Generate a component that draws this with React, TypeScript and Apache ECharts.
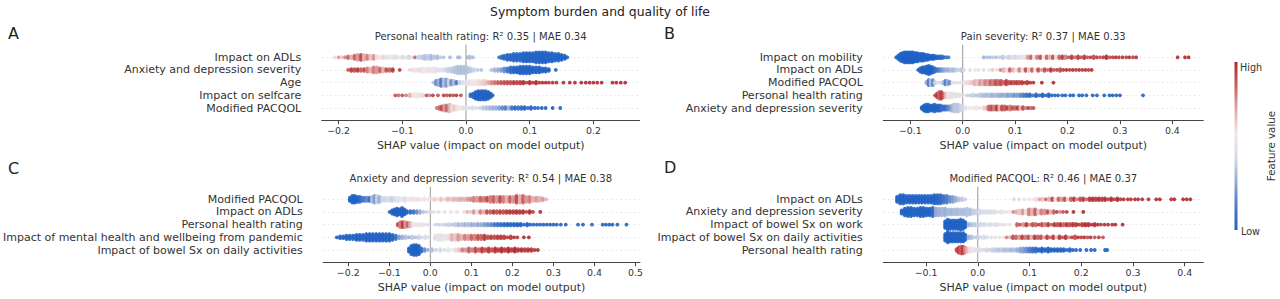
import React, { useEffect, useRef } from "react";
import * as echarts from "echarts";

type Bin = [number, number, number]; // [shap value, feature value 0..1, dot count]

const mainTitle = "Symptom burden and quality of life";
const panelLetters = ["A", "B", "C", "D"];
const panelTitles = [
  "Personal health rating: R\u00b2 0.35 | MAE 0.34",
  "Pain severity: R\u00b2 0.37 | MAE 0.33",
  "Anxiety and depression severity: R\u00b2 0.54 | MAE 0.38",
  "Modified PACQOL: R\u00b2 0.46 | MAE 0.37",
];
const featuresA = ["Impact on ADLs", "Anxiety and depression severity", "Age", "Impact on selfcare", "Modified PACQOL"];
const featuresB = ["Impact on mobility", "Impact on ADLs", "Modified PACQOL", "Personal health rating", "Anxiety and depression severity"];
const featuresC = ["Modified PACQOL", "Impact on ADLs", "Personal health rating", "Impact of mental health and wellbeing from pandemic", "Impact of bowel Sx on daily activities"];
const featuresD = ["Impact on ADLs", "Anxiety and depression severity", "Impact of bowel Sx on work", "Impact of bowel Sx on daily activities", "Personal health rating"];

const xTicksA = [-0.2, -0.1, 0, 0.1, 0.2];
const xTicksB = [-0.1, 0, 0.1, 0.2, 0.3, 0.4];
const xTicksC = [-0.2, -0.1, 0, 0.1, 0.2, 0.3, 0.4, 0.5];
const xTicksD = [-0.1, 0, 0.1, 0.2, 0.3, 0.4];
const xRangeA = [-0.2265, 0.2727];
const xRangeB = [-0.1515, 0.459];
const xRangeC = [-0.261, 0.511];
const xRangeD = [-0.1826, 0.436];
const axisTitle = "SHAP value (impact on model output)";
const colorLabels = ["High", "Low"];
const colorTitle = "Feature value";

// ---------- Panel A ----------
const a1: Bin[] = [[-0.206,0.6,1],[-0.2,0.75,1],[-0.195,0.65,1],[-0.19,0.8,1],[-0.185,0.85,2],[-0.18,0.7,2],[-0.175,0.85,3],[-0.17,0.75,4],[-0.165,0.9,4],[-0.16,0.7,4],[-0.155,0.8,3],[-0.15,0.65,3],[-0.145,0.75,3],[-0.14,0.6,2],[-0.135,0.55,2],[-0.13,0.62,2],[-0.125,0.52,2],[-0.12,0.55,2],[-0.115,0.5,2],[-0.11,0.47,2],[-0.105,0.52,1],[-0.1,0.45,2],[-0.095,0.5,1],[-0.09,0.42,2],[-0.085,0.48,1],[-0.08,0.85,1],[-0.075,0.4,2],[-0.07,0.38,2],[-0.065,0.35,3],[-0.06,0.38,3],[-0.055,0.33,3],[-0.05,0.36,2],[-0.045,0.34,2],[-0.04,0.38,1],[-0.035,0.35,1],[-0.025,0.33,1],[-0.013,0.34,1],[-0.01,0.32,1],[0.002,0.33,1],[0.006,0.35,2],[0.011,0.33,1],
[0.052,0.1,1],[0.056,0.05,2],[0.06,0.04,3],[0.065,0.03,4],[0.07,0.02,4],[0.075,0.02,5],[0.08,0.01,5],[0.085,0.01,5],[0.09,0.01,6],[0.095,0,6],[0.1,0,6],[0.105,0,6],[0.11,0,7],[0.115,0,7],[0.12,0,7],[0.125,0,7],[0.13,0,6],[0.135,0,6],[0.14,0,5],[0.145,0,5],[0.15,0,4],[0.155,0,3],[0.159,0,1]];
const a2: Bin[] = [[-0.185,0.9,1],[-0.18,0.95,2],[-0.175,0.9,2],[-0.17,0.95,2],[-0.165,0.85,2],[-0.16,0.9,2],[-0.155,0.8,3],[-0.15,0.7,3],[-0.145,0.8,4],[-0.14,0.75,4],[-0.135,0.85,3],[-0.13,0.7,3],[-0.125,0.9,2],[-0.12,0.85,2],[-0.115,0.95,2],[-0.104,0.95,1],
[-0.088,0.62,1],[-0.083,0.6,2],[-0.078,0.58,2],[-0.073,0.6,2],[-0.068,0.55,3],[-0.063,0.57,3],[-0.058,0.52,3],[-0.053,0.55,3],[-0.048,0.5,3],[-0.043,0.48,2],[-0.038,0.5,2],
[-0.033,0.42,2],[-0.028,0.4,3],[-0.023,0.38,3],[-0.018,0.36,4],[-0.013,0.35,5],[-0.008,0.34,5],[-0.003,0.35,5],[0.002,0.36,4],[0.007,0.38,3],[0.012,0.4,2],[0.018,0.38,1],[0.024,0.36,1],
[0.04,0.35,1],[0.045,0.32,2],[0.05,0.3,2],[0.055,0.25,2],[0.06,0.2,3],[0.065,0.12,3],[0.07,0.05,4],[0.075,0.02,4],[0.08,0,4],[0.085,0,5],[0.09,0,5],[0.095,0,5],[0.1,0,5],[0.105,0,4],[0.11,0,4],[0.115,0,4],[0.12,0,3],[0.125,0,3],[0.13,0,2],[0.141,0,1]];
const a3: Bin[] = [[-0.051,0.35,1],[-0.047,0.2,3],[-0.043,0.3,4],[-0.039,0.15,5],[-0.035,0.35,5],[-0.031,0.25,5],[-0.027,0.4,4],[-0.023,0.2,3],[-0.019,0.35,3],[-0.015,0.15,2],[-0.01,0.4,2],[-0.005,0.45,2],[0,0.5,2],
[0.005,0.52,3],[0.01,0.55,3],[0.015,0.58,3],[0.02,0.6,3],[0.025,0.62,3],[0.03,0.65,3],
[0.035,0.72,2],[0.04,0.78,2],[0.045,0.82,2],[0.05,0.85,2],[0.055,0.88,2],[0.06,0.9,2],[0.065,0.92,2],[0.07,0.9,2],[0.075,0.95,2],[0.08,0.93,2],[0.085,0.95,2],[0.09,0.97,2],[0.095,0.95,1],[0.1,0.97,2],[0.105,0.96,1],[0.11,0.98,2],[0.115,0.97,1],[0.12,0.98,1],[0.125,0.98,1],[0.13,0.97,1],[0.136,0.99,1],[0.142,0.99,1],
[0.153,1,1],[0.163,1,1],[0.171,1,1],[0.181,1,1],[0.188,1,1],[0.194,1,1],[0.2,1,1],[0.206,1,1],[0.213,1,1],[0.23,1,1],[0.236,1,1],[0.243,1,1],[0.25,1,1]];
const a4: Bin[] = [[-0.111,0.9,1],[-0.106,0.85,1],[-0.1,0.9,1],[-0.094,0.8,1],[-0.088,0.7,2],[-0.083,0.6,2],[-0.078,0.55,3],[-0.073,0.5,2],[-0.068,0.6,2],[-0.062,0.9,1],[-0.057,0.8,1],[-0.052,0.95,1],[-0.044,0.9,1],[-0.035,0.95,1],[-0.03,0.9,1],[-0.025,0.95,1],[-0.02,0.9,1],[-0.015,0.95,1],[-0.008,0.9,1],
[0.007,0.05,2],[0.011,0.02,3],[0.015,0,5],[0.019,0,6],[0.023,0,6],[0.027,0,6],[0.031,0,6],[0.035,0,5],[0.039,0,3],[0.042,0,1]];
const a5: Bin[] = [[-0.046,0.8,1],[-0.042,0.85,2],[-0.038,0.9,3],[-0.034,0.75,4],[-0.03,0.85,4],[-0.026,0.7,5],[-0.022,0.6,4],[-0.018,0.65,3],[-0.014,0.55,3],[-0.01,0.55,2],[-0.005,0.5,2],[0,0.48,2],[0.005,0.45,1],[0.01,0.45,2],[0.016,0.42,1],[0.022,0.4,1],
[0.027,0.38,2],[0.032,0.35,2],[0.037,0.33,2],[0.042,0.3,2],[0.047,0.3,2],[0.052,0.25,2],[0.057,0.2,2],[0.062,0.15,2],[0.067,0.3,2],[0.072,0.1,2],[0.077,0.05,2],[0.082,0.1,2],[0.087,0.05,2],[0.092,0.02,2],[0.097,0.05,1],[0.102,0.02,2],[0.108,0,1],[0.113,0.02,1],[0.119,0,1],[0.125,0,1],[0.136,0,1],[0.148,0,1]];

// ---------- Panel B ----------
const b1: Bin[] = [[-0.127,0,1],[-0.123,0,3],[-0.119,0,5],[-0.115,0,6],[-0.111,0,7],[-0.107,0,7],[-0.103,0,7],[-0.099,0,7],[-0.095,0,7],[-0.091,0,6],[-0.087,0,6],[-0.083,0,5],[-0.079,0,5],[-0.075,0,5],[-0.071,0,4],[-0.067,0,4],[-0.063,0,3],[-0.059,0,3],[-0.055,0,3],[-0.051,0,2],[-0.047,0.02,2],[-0.043,0.02,2],[-0.039,0.05,2],[-0.035,0.05,1],[-0.031,0.1,1],[-0.027,0.1,1],
[0.04,0.3,1],[0.046,0.35,1],[0.052,0.32,1],[0.058,0.38,1],[0.064,0.35,1],[0.07,0.4,1],[0.076,0.38,2],[0.082,0.42,1],[0.088,0.4,2],[0.094,0.45,2],[0.1,0.42,2],[0.106,0.47,2],[0.112,0.5,2],[0.118,0.52,2],
[0.124,0.75,2],[0.13,0.85,2],[0.136,0.6,2],[0.142,0.8,2],[0.148,0.9,2],[0.154,0.55,1],[0.16,0.85,2],[0.166,0.7,2],[0.172,0.9,2],[0.178,0.6,2],[0.184,0.85,2],[0.19,0.95,2],[0.196,0.8,2],[0.202,0.9,1],[0.208,0.95,2],[0.214,0.85,1],[0.22,0.95,2],[0.226,0.9,1],[0.232,0.95,2],[0.238,0.9,1],[0.244,0.95,1],[0.25,0.9,2],[0.256,0.95,1],[0.262,0.9,1],[0.268,0.95,1],[0.274,0.98,2],[0.28,0.9,1],[0.286,0.95,1],[0.292,0.98,1],[0.298,0.95,1],[0.305,0.98,1],[0.312,0.95,1],[0.318,0.98,1],[0.325,0.95,1],[0.331,0.98,1],
[0.41,1,1],[0.424,1,1],[0.431,1,1]];
const b2: Bin[] = [[-0.085,0,1],[-0.081,0,3],[-0.077,0,4],[-0.073,0,4],[-0.069,0,5],[-0.065,0,6],[-0.061,0,5],[-0.057,0,4],[-0.053,0.05,3],[-0.049,0.1,2],[-0.045,0.15,2],[-0.041,0.2,2],[-0.037,0.25,2],[-0.033,0.3,2],[-0.028,0.3,2],[-0.023,0.35,2],[-0.018,0.33,2],[-0.013,0.38,2],[-0.008,0.4,1],[-0.003,0.38,2],[0.002,0.42,1],
[0.014,0.5,1],[0.024,0.55,1],[0.03,0.52,1],[0.04,0.6,1],[0.05,0.55,1],[0.057,0.65,1],[0.065,0.6,1],
[0.072,0.8,1],[0.078,0.7,2],[0.084,0.6,2],[0.09,0.85,2],[0.096,0.7,2],[0.102,0.55,2],[0.108,0.8,2],[0.114,0.6,2],[0.12,0.9,2],[0.126,0.65,2],[0.132,0.85,2],[0.138,0.55,1],[0.144,0.9,2],[0.15,0.75,1],[0.156,0.9,2],[0.162,0.85,1],[0.168,0.95,2],[0.174,0.9,1],[0.18,0.95,1],[0.186,0.9,2],[0.192,0.95,1],[0.198,0.98,1],[0.204,0.95,1],[0.21,0.98,1],[0.216,0.95,1],[0.222,0.98,1],[0.228,0.95,1],[0.234,0.98,1],[0.24,0.95,1],[0.246,0.98,1]];
const b3: Bin[] = [[-0.069,0.3,2],[-0.065,0.15,4],[-0.061,0.35,4],[-0.057,0.2,4],[-0.053,0.4,2],[-0.047,0.45,1],[-0.042,0.42,1],[-0.037,0.35,2],[-0.033,0.15,3],[-0.029,0.3,3],[-0.025,0.2,2],[-0.02,0.45,1],[-0.014,0.48,1],[-0.008,0.5,1],[-0.003,0.5,1],
[0.003,0.55,2],[0.008,0.6,2],[0.013,0.62,2],[0.018,0.65,2],[0.023,0.7,3],[0.028,0.65,3],[0.033,0.75,3],[0.038,0.7,3],[0.043,0.8,3],[0.048,0.75,3],[0.053,0.85,3],[0.058,0.8,3],[0.063,0.9,3],[0.068,0.85,3],[0.073,0.9,3],[0.078,0.85,2],[0.083,0.95,3],[0.088,0.9,2],[0.093,0.95,2],[0.098,0.9,2],[0.103,0.95,2],[0.108,0.9,2],[0.113,0.95,2],[0.118,0.97,1],[0.123,0.95,2],[0.129,0.98,1],[0.135,0.97,1],[0.151,1,1],[0.173,1,1]];
const b4: Bin[] = [[-0.053,0.9,1],[-0.049,0.95,3],[-0.045,0.85,5],[-0.041,0.95,5],[-0.037,0.9,3],[-0.033,0.7,3],[-0.029,0.6,3],[-0.025,0.55,4],[-0.021,0.5,3],[-0.016,0.52,3],[-0.011,0.48,2],[-0.006,0.5,2],[0,0.48,1],
[0.008,0.4,1],[0.014,0.38,1],[0.02,0.4,2],[0.026,0.35,1],[0.032,0.38,2],[0.038,0.35,2],[0.044,0.33,2],[0.05,0.35,2],[0.056,0.3,2],[0.062,0.33,2],[0.068,0.3,2],[0.074,0.28,2],[0.08,0.3,2],[0.086,0.25,2],[0.092,0.28,2],[0.098,0.22,2],[0.104,0.25,2],[0.11,0.2,2],[0.116,0.15,2],[0.122,0.1,2],[0.128,0.05,2],[0.134,0.08,1],[0.14,0.02,2],[0.146,0.05,1],[0.152,0,2],[0.158,0.02,1],[0.164,0,2],[0.17,0,1],[0.176,0.02,1],[0.182,0,1],[0.19,0,1],[0.196,0,1],[0.205,0,1],[0.211,0,1],
[0.222,0,1],[0.228,0,1],[0.236,0,1],[0.248,0,1],[0.256,0,1],[0.27,0,1],[0.28,0,1],[0.286,0,1],[0.293,0,1],[0.3,0,1],[0.344,0,1]];
const b5: Bin[] = [[-0.078,0,2],[-0.074,0,4],[-0.07,0,5],[-0.066,0,5],[-0.062,0,4],[-0.058,0,4],[-0.054,0,5],[-0.05,0.02,4],[-0.046,0,4],[-0.042,0.05,4],[-0.038,0.1,3],[-0.034,0.05,3],[-0.03,0.15,3],[-0.026,0.2,3],[-0.021,0.3,4],[-0.017,0.35,5],[-0.013,0.38,5],[-0.009,0.36,5],[-0.005,0.4,4],[-0.001,0.42,3],
[0.005,0.5,2],[0.012,0.52,1],[0.018,0.55,1],[0.025,0.55,2],[0.032,0.6,1],[0.04,0.62,2],[0.046,0.7,2],
[0.05,0.85,3],[0.055,0.9,3],[0.06,0.8,3],[0.065,0.95,3],[0.07,0.7,3],[0.075,0.9,3],[0.08,0.85,3],[0.085,0.95,2],[0.09,0.8,3],[0.095,0.9,2],[0.1,0.85,2],[0.105,0.95,2],[0.11,0.7,2],[0.115,0.9,2],[0.12,0.8,1],[0.125,0.95,1],[0.13,0.85,1],[0.135,0.9,1]];

// ---------- Panel C ----------
const c1: Bin[] = [[-0.196,0,3],[-0.19,0,5],[-0.184,0,5],[-0.178,0,4],[-0.172,0.05,4],[-0.166,0.1,3],[-0.16,0.15,3],[-0.154,0.2,3],[-0.148,0.1,3],[-0.142,0.35,4],[-0.136,0.25,5],[-0.13,0.4,5],[-0.124,0.3,4],[-0.118,0.4,3],[-0.11,0.42,3],[-0.102,0.45,3],[-0.094,0.4,3],[-0.086,0.45,3],[-0.078,0.5,3],[-0.07,0.52,2],[-0.062,0.48,3],[-0.054,0.55,2],[-0.046,0.5,2],[-0.038,0.55,2],[-0.03,0.52,2],[-0.022,0.56,1],[-0.014,0.55,2],[-0.006,0.58,1],
[0.002,0.6,1],[0.01,0.62,2],[0.018,0.6,1],[0.026,0.65,2],[0.034,0.62,1],[0.042,0.68,2],[0.05,0.65,2],[0.058,0.7,2],[0.066,0.68,2],[0.074,0.72,2],[0.082,0.7,2],[0.09,0.75,2],[0.098,0.78,2],[0.106,0.8,3],[0.114,0.75,3],[0.122,0.85,3],[0.13,0.8,3],[0.138,0.9,3],[0.146,0.8,4],[0.154,0.85,4],[0.162,0.75,4],[0.17,0.9,4],[0.178,0.8,4],[0.186,0.7,4],[0.194,0.85,4],[0.202,0.75,4],[0.21,0.9,5],[0.218,0.7,5],[0.226,0.85,5],[0.234,0.75,4],[0.242,0.8,4],[0.25,0.7,3],[0.258,0.75,3],[0.266,0.7,3],[0.274,0.75,2],[0.282,0.7,1]];
const c2: Bin[] = [[-0.099,0,1],[-0.093,0,3],[-0.087,0,4],[-0.081,0,5],[-0.075,0,4],[-0.069,0,6],[-0.063,0,4],[-0.057,0,2],[-0.049,0.05,2],[-0.041,0.1,2],[-0.033,0.2,2],[-0.025,0.3,2],[-0.017,0.35,1],[-0.009,0.4,1],[0,0.42,1],[0.008,0.45,1],[0.02,0.48,1],[0.035,0.5,1],[0.05,0.5,1],[0.065,0.52,1],
[0.082,0.6,1],[0.09,0.7,1],[0.098,0.65,1],[0.106,0.75,2],[0.114,0.6,2],[0.122,0.8,2],[0.13,0.7,2],[0.138,0.9,2],[0.146,0.85,2],[0.154,0.95,2],[0.162,0.9,2],[0.17,0.95,2],[0.178,0.9,2],[0.186,0.95,2],[0.194,0.97,2],[0.202,0.95,2],[0.21,0.98,2],[0.218,0.95,2],[0.226,0.98,2],[0.234,0.95,1],[0.242,0.98,2],[0.25,0.97,1],[0.268,1,1]];
const c3: Bin[] = [[-0.079,0.9,2],[-0.073,0.8,4],[-0.067,0.95,4],[-0.061,0.75,4],[-0.055,0.85,3],[-0.049,0.7,3],[-0.043,0.6,2],[-0.036,0.55,2],[-0.028,0.52,2],[-0.02,0.5,2],[-0.012,0.5,1],[-0.004,0.48,1],
[0.012,0.42,1],[0.02,0.4,1],[0.028,0.42,1],[0.036,0.38,1],[0.044,0.4,2],[0.052,0.36,1],[0.06,0.38,2],[0.068,0.34,2],[0.076,0.36,2],[0.084,0.32,2],[0.092,0.34,2],[0.1,0.3,2],[0.108,0.32,2],[0.116,0.28,2],[0.124,0.3,2],[0.132,0.25,2],[0.14,0.22,2],[0.148,0.2,2],[0.156,0.12,2],[0.164,0.08,2],[0.172,0.05,2],[0.18,0.02,2],[0.188,0,2],[0.196,0.02,2],[0.204,0,2],[0.212,0,2],[0.22,0,2],[0.228,0,1],[0.236,0,2],[0.244,0,1],[0.252,0,1],[0.26,0,1],[0.268,0,1],[0.276,0,1],[0.284,0,1],[0.292,0,1],[0.3,0,1],[0.308,0,1],[0.318,0,1],[0.33,0,1],
[0.36,0,1],[0.372,0,1],[0.394,0,1],[0.42,0,1],[0.428,0,1],[0.436,0,1],[0.444,0,1],[0.456,0,1],[0.478,0,1]];
const c4: Bin[] = [[-0.228,0,1],[-0.22,0,2],[-0.212,0,2],[-0.204,0,3],[-0.196,0,3],[-0.188,0,3],[-0.18,0,4],[-0.172,0,4],[-0.164,0,4],[-0.156,0,5],[-0.148,0,5],[-0.14,0,5],[-0.132,0,5],[-0.124,0,5],[-0.116,0,5],[-0.108,0,5],[-0.1,0,5],[-0.092,0.02,4],[-0.084,0.1,3],[-0.076,0.25,2],[-0.068,0.3,2],[-0.06,0.35,2],[-0.052,0.3,1],[-0.044,0.38,2],[-0.036,0.35,1],[-0.028,0.4,2],[-0.02,0.42,1],[-0.012,0.45,2],[-0.004,0.45,1],
[0.012,0.48,3],[0.02,0.5,4],[0.028,0.5,4],[0.036,0.52,3],
[0.044,0.6,3],[0.052,0.7,4],[0.06,0.65,4],[0.068,0.75,4],[0.076,0.7,3],[0.084,0.8,3],[0.092,0.75,3],[0.1,0.85,3],[0.108,0.8,3],[0.116,0.9,3],[0.124,0.85,3],[0.132,0.95,3],[0.14,0.9,2],[0.148,0.95,2],[0.156,0.9,2],[0.164,0.95,2],[0.172,0.97,2],[0.18,0.95,2],[0.188,0.98,1],[0.196,0.95,2],[0.204,0.98,1],[0.212,0.97,1],[0.228,1,1],[0.24,1,1]];
const c5: Bin[] = [[-0.052,0,3],[-0.046,0,6],[-0.04,0,7],[-0.034,0,7],[-0.028,0,6],[-0.022,0.05,3],[-0.014,0.2,2],[-0.006,0.3,1],[0.004,0.35,2],[0.014,0.4,1],[0.024,0.42,2],[0.034,0.45,1],[0.044,0.5,2],[0.054,0.55,1],[0.062,0.6,2],[0.07,0.65,2],
[0.078,0.8,2],[0.086,0.75,2],[0.094,0.85,3],[0.102,0.8,2],[0.11,0.9,3],[0.118,0.85,2],[0.126,0.95,3],[0.134,0.9,2],[0.142,0.95,3],[0.15,0.9,2],[0.158,0.97,3],[0.166,0.95,2],[0.174,0.98,3],[0.182,0.95,2],[0.19,0.98,3],[0.198,0.95,2],[0.206,0.98,3],[0.214,0.97,2],[0.222,0.98,2],[0.23,0.95,2],[0.238,0.98,2],[0.246,0.97,2],[0.254,0.98,1],[0.262,1,1]];

// ---------- Panel D ----------
const d1: Bin[] = [[-0.156,0,4],[-0.15,0,6],[-0.144,0,6],[-0.138,0,5],[-0.132,0,5],[-0.126,0,5],[-0.12,0,5],[-0.114,0,5],[-0.108,0,5],[-0.102,0,5],[-0.096,0,5],[-0.09,0,5],[-0.084,0,6],[-0.078,0.02,6],[-0.072,0.05,6],[-0.066,0.1,5],[-0.06,0.15,5],[-0.054,0.2,4],[-0.048,0.25,4],[-0.042,0.3,3],[-0.036,0.35,2],[-0.03,0.38,2],[-0.024,0.4,1],
[0.07,0.45,1],[0.08,0.48,1],[0.09,0.5,1],[0.1,0.52,1],[0.108,0.55,1],
[0.114,0.6,2],[0.12,0.75,1],[0.126,0.65,2],[0.132,0.85,1],[0.138,0.7,2],[0.144,0.9,2],[0.15,0.6,1],[0.156,0.85,2],[0.162,0.75,2],[0.168,0.9,2],[0.174,0.65,1],[0.18,0.85,2],[0.186,0.95,2],[0.192,0.8,1],[0.198,0.9,2],[0.204,0.95,2],[0.21,0.85,1],[0.216,0.95,2],[0.222,0.98,2],[0.228,0.95,2],[0.234,0.98,2],[0.24,0.95,2],[0.246,0.98,2],[0.252,0.95,1],[0.258,0.98,2],[0.264,0.95,1],[0.27,0.98,2],[0.276,0.97,1],[0.282,0.98,1],[0.29,0.97,1],[0.296,0.98,1],[0.304,0.99,1],[0.31,0.98,1],[0.318,0.99,1],[0.33,0.99,1],[0.345,1,1],[0.352,1,1],
[0.374,1,1],[0.38,1,1],[0.397,1,1],[0.404,1,1],[0.411,1,1]];
const d2: Bin[] = [[-0.147,0,3],[-0.141,0,5],[-0.135,0,6],[-0.129,0,6],[-0.123,0,5],[-0.117,0,5],[-0.111,0,6],[-0.105,0,6],[-0.099,0,5],[-0.093,0,5],[-0.087,0.05,6],[-0.081,0.28,5],[-0.075,0.3,5],[-0.069,0.32,5],[-0.063,0.3,5],[-0.057,0.33,4],[-0.051,0.32,4],[-0.045,0.34,4],[-0.039,0.33,4],[-0.033,0.35,4],[-0.027,0.34,4],[-0.021,0.36,5],[-0.015,0.35,4],[-0.009,0.38,3],[-0.003,0.4,3],[0.003,0.42,3],[0.009,0.44,2],[0.015,0.45,2],[0.021,0.46,2],[0.027,0.47,2],[0.033,0.48,2],[0.039,0.5,1],[0.045,0.5,2],[0.051,0.52,1],[0.057,0.53,1],[0.063,0.55,1],
[0.069,0.8,1],[0.075,0.7,2],[0.081,0.65,3],[0.087,0.75,3],[0.093,0.6,3],[0.099,0.8,4],[0.105,0.7,4],[0.111,0.85,4],[0.117,0.65,3],[0.123,0.8,3],[0.129,0.75,3],[0.135,0.9,2],[0.141,0.7,2],[0.147,0.85,2],[0.153,0.95,1],[0.159,0.8,1],[0.165,0.9,1],[0.172,0.95,1],[0.185,1,1],[0.204,1,1]];
const d3: Bin[] = [[-0.063,0,5],[-0.058,0,7],[-0.053,0,6],[-0.048,0,6],[-0.043,0,6],[-0.038,0,6],[-0.033,0,7],[-0.028,0,6],[-0.024,0,4],[-0.018,0.3,2],[-0.012,0.35,2],[-0.006,0.38,2],[0,0.4,2],[0.006,0.42,2],[0.012,0.43,2],[0.018,0.44,1],[0.024,0.45,2],[0.03,0.46,1],[0.036,0.47,2],[0.042,0.48,1],[0.048,0.5,1],[0.054,0.5,1],[0.062,0.52,1],
[0.076,0.85,2],[0.082,0.9,1],[0.088,0.75,2],[0.094,0.95,2],[0.1,0.8,1],[0.106,0.9,2],[0.112,0.85,2],[0.118,0.95,1],[0.124,0.9,2],[0.13,0.8,2],[0.136,0.95,2],[0.142,0.85,1],[0.148,0.95,2],[0.154,0.9,2],[0.16,0.97,2],[0.166,0.85,2],[0.172,0.95,2],[0.178,0.9,2],[0.184,0.97,2],[0.19,0.95,2],[0.196,0.98,1],[0.202,0.95,2],[0.208,0.98,2],[0.214,0.97,2],[0.22,0.98,1],[0.226,0.97,2],[0.232,0.98,1],[0.238,0.97,1],[0.245,0.98,1],[0.252,0.99,1],[0.26,0.98,1],[0.266,0.99,1],[0.28,1,1]];
const d4: Bin[] = [[-0.063,0,5],[-0.058,0,7],[-0.053,0,6],[-0.048,0,6],[-0.043,0,6],[-0.038,0,6],[-0.033,0,6],[-0.028,0,6],[-0.024,0.02,4],[-0.018,0.3,2],[-0.012,0.35,2],[-0.006,0.38,1],[0,0.4,2],[0.006,0.42,1],[0.012,0.44,2],[0.018,0.45,1],[0.026,0.48,1],[0.034,0.5,1],[0.042,0.52,1],[0.05,0.55,1],
[0.056,0.8,1],[0.062,0.7,1],[0.068,0.9,2],[0.074,0.85,2],[0.08,0.75,2],[0.086,0.95,2],[0.092,0.8,2],[0.098,0.9,2],[0.104,0.7,2],[0.11,0.95,2],[0.116,0.85,2],[0.122,0.9,2],[0.128,0.75,1],[0.134,0.95,2],[0.14,0.85,1],[0.146,0.95,2],[0.152,0.7,1],[0.158,0.95,2],[0.164,0.9,1],[0.17,0.97,2],[0.176,0.8,1],[0.182,0.95,1],[0.188,0.9,2],[0.194,0.97,1],[0.2,0.95,1],[0.206,0.98,1],[0.212,0.9,1],[0.218,0.97,1],[0.226,0.9,1],[0.234,0.95,1],[0.242,0.9,1]];
const d5: Bin[] = [[-0.041,0.9,2],[-0.037,0.95,4],[-0.033,0.85,5],[-0.029,0.95,5],[-0.025,0.8,4],[-0.021,0.7,3],[-0.016,0.6,3],[-0.011,0.55,3],[-0.006,0.52,2],[-0.001,0.5,2],[0.004,0.48,2],
[0.01,0.45,1],[0.016,0.42,2],[0.022,0.4,1],[0.028,0.4,2],[0.034,0.38,2],[0.04,0.36,2],[0.046,0.38,2],[0.052,0.34,2],[0.058,0.36,2],[0.064,0.32,2],[0.07,0.34,2],[0.076,0.3,2],[0.082,0.28,3],[0.088,0.25,3],[0.094,0.2,3],[0.1,0.15,3],[0.106,0.1,3],[0.112,0.05,3],[0.118,0.02,2],[0.124,0,3],[0.13,0,2],[0.136,0,3],[0.142,0,2],[0.148,0,2],[0.154,0,2],[0.16,0,2],[0.166,0,2],[0.172,0,1],[0.178,0,2],[0.184,0,1],[0.19,0,1],[0.198,0,1],[0.21,0,1],[0.219,0,1],[0.226,0,1],[0.246,0,1],[0.25,0,1]];

const rowsA = [a1, a2, a3, a4, a5];
const rowsB = [b1, b2, b3, b4, b5];
const rowsC = [c1, c2, c3, c4, c5];
const rowsD = [d1, d2, d3, d4, d5];

// ---------- styling / layout ----------
const FONT = "DejaVu Sans";
const TEXT = "#333333";
const CMAP = ["#1f62c4", "#4a78c6", "#93a9d3", "#d4dbe8", "#f1e6e6", "#e2aaaa", "#c85f5f", "#b0272c"];
const DOT_STEP = 0.13;

const panels = [
  { rows: rowsA, names: featuresA, ticks: xTicksA, range: xRangeA, grid: { left: 321.7, top: 44.6, width: 318, height: 76.1 } },
  { rows: rowsB, names: featuresB, ticks: xTicksB, range: xRangeB, grid: { left: 883.3, top: 44.6, width: 320, height: 76.1 } },
  { rows: rowsC, names: featuresC, ticks: xTicksC, range: xRangeC, grid: { left: 321.7, top: 186.6, width: 318.3, height: 76.1 } },
  { rows: rowsD, names: featuresD, ticks: xTicksD, range: xRangeD, grid: { left: 883.3, top: 186.6, width: 320, height: 76.1 } },
];

function swarm(rows: Bin[][]): number[][] {
  const out: number[][] = [];
  const nRows = rows.length;
  rows.forEach((row, ri) => {
    const pos = nRows - 1 - ri;
    row.forEach(([x, f, n]) => {
      for (let k = 0; k < n; k++) {
        out.push([x, pos + (k - (n - 1) / 2) * DOT_STEP, f]);
      }
    });
  });
  return out;
}

const fmtTick = (v: number) => (v < 0 ? "\u2212" : "") + Math.abs(v).toFixed(1);

export default function App() {
  const ref = useRef<HTMLDivElement>(null);
  useEffect(() => {
    if (!ref.current) return;
    const chart = echarts.init(ref.current, null, { renderer: "svg" });

    const grids = panels.map((p) => ({ ...p.grid, containLabel: false }));
    const xAxes = panels.map((p, i) => ({
      gridIndex: i,
      type: "value",
      min: p.range[0],
      max: p.range[1],
      axisLine: { show: true, onZero: false, lineStyle: { color: "#444", width: 1 } },
      axisTick: { show: true, customValues: p.ticks, length: 3.5, lineStyle: { color: "#444", width: 1 } },
      axisLabel: { customValues: p.ticks, formatter: fmtTick, fontSize: 9.4, color: TEXT, margin: 5.5, fontFamily: FONT },
      splitLine: { show: false },
      name: axisTitle,
      nameLocation: "middle",
      nameGap: 19,
      nameTextStyle: { fontSize: 11, color: TEXT, fontFamily: FONT },
    }));
    const yAxes = panels.map((p, i) => ({
      gridIndex: i,
      type: "value",
      min: -1,
      max: 5,
      interval: 1,
      axisLine: { show: false },
      axisTick: { show: false },
      axisLabel: {
        fontSize: 11,
        color: TEXT,
        fontFamily: FONT,
        margin: 20.5,
        formatter: (v: number) => {
          const idx = p.names.length - 1 - Math.round(v);
          return v >= 0 && v <= p.names.length - 1 ? p.names[idx] : "";
        },
      },
      splitLine: {
        show: true,
        lineStyle: {
          color: ["rgba(0,0,0,0)", "#d0d0d0", "#d0d0d0", "#d0d0d0", "#d0d0d0", "#d0d0d0", "rgba(0,0,0,0)"],
          width: 0.6,
          type: [1.5, 3],
        },
      },
    }));

    const scatterSeries = panels.map((p, i) => ({
      type: "scatter",
      xAxisIndex: i,
      yAxisIndex: i,
      data: swarm(p.rows),
      symbolSize: 3.8,
      itemStyle: { opacity: 0.9 },
      silent: true,
      z: 3,
    }));
    const zeroSeries = panels.map((_, i) => ({
      type: "line",
      xAxisIndex: i,
      yAxisIndex: i,
      data: [[0, -1], [0, 5]],
      symbol: "none",
      lineStyle: { color: "#999999", width: 1 },
      silent: true,
      z: 1,
    }));

    const txt = (text: string, x: number, y: number, size: number, align: string, extra: any = {}) => ({
      type: "text",
      x,
      y,
      silent: true,
      ...extra,
      style: {
        text,
        font: `${size}px "${FONT}"`,
        fill: extra.fill || "#222",
        align,
        textAlign: align,
        verticalAlign: "middle",
        textVerticalAlign: "middle",
      },
    });

    const subtitleCenters = panels.map((p) => [p.grid.left + p.grid.width / 2, p.grid.top - 8.6]);
    const letterPos = [[8, 33], [664, 33], [8, 168], [664, 167]];

    const gradStops = CMAP.map((c, i) => ({ offset: 1 - i / (CMAP.length - 1), color: c })).reverse();

    const graphics: any[] = [
      txt(mainTitle, 600, 11, 12.4, "center"),
      ...panelLetters.map((l, i) => txt(l, letterPos[i][0], letterPos[i][1], 16, "left")),
      ...panelTitles.map((t, i) => txt(t, subtitleCenters[i][0], subtitleCenters[i][1], 10.1, "center", { fill: TEXT })),
      {
        type: "rect",
        silent: true,
        shape: { x: 1234.5, y: 62, width: 3, height: 168 },
        style: { fill: new echarts.graphic.LinearGradient(0, 0, 0, 1, gradStops) },
      },
      txt(colorLabels[0], 1240, 67, 9.6, "left", { fill: TEXT }),
      txt(colorLabels[1], 1241, 231, 9.6, "left", { fill: TEXT }),
      txt(colorTitle, 1271, 146, 10.3, "center", { rotation: Math.PI / 2, fill: TEXT }),
    ];

    chart.setOption({
      animation: false,
      backgroundColor: "#ffffff",
      textStyle: { fontFamily: FONT },
      grid: grids,
      xAxis: xAxes,
      yAxis: yAxes,
      visualMap: {
        type: "continuous",
        show: false,
        min: 0,
        max: 1,
        dimension: 2,
        seriesIndex: [0, 1, 2, 3],
        inRange: { color: CMAP },
      },
      series: [...scatterSeries, ...zeroSeries],
      graphic: graphics,
    });
    return () => chart.dispose();
  }, []);
  return <div ref={ref} style={{ position: "absolute", left: 0, top: 0, width: 1280, height: 299 }} />;
}
